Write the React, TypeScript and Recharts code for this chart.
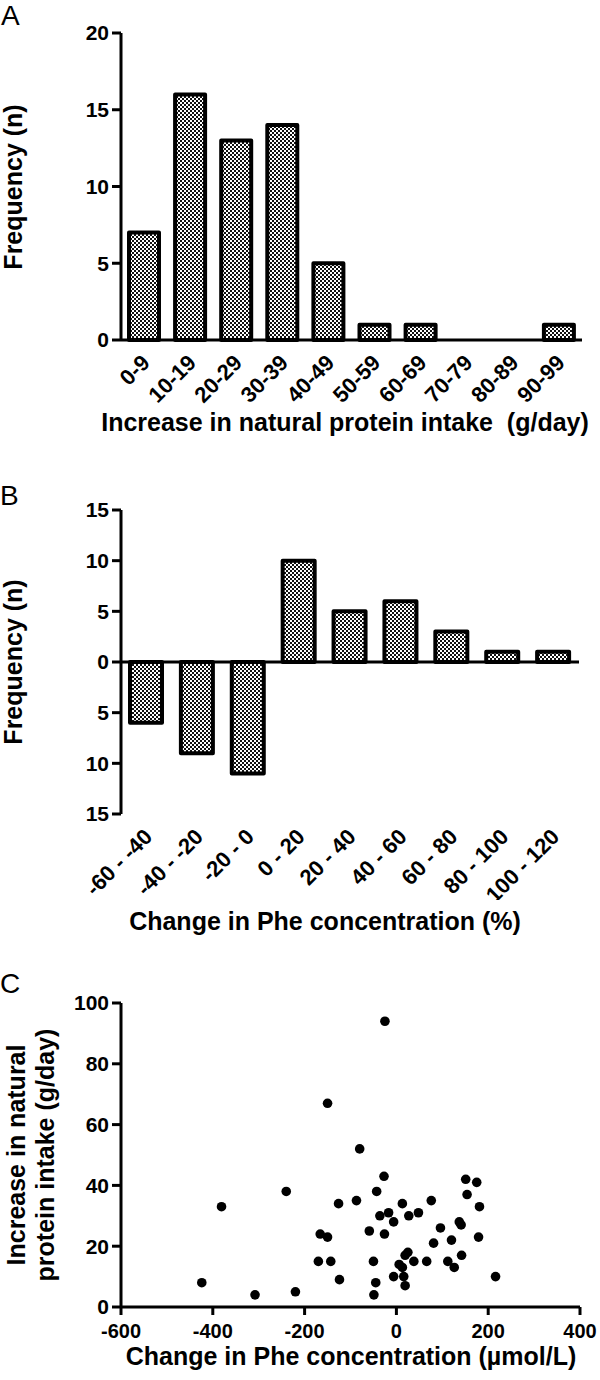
import React from 'react';
import { BarChart, Bar, XAxis, YAxis, ReferenceLine, ScatterChart, Scatter } from 'recharts';

const FONT = '"Liberation Sans", Arial, Helvetica, sans-serif';

// Panel A
const intakeBins = ['0-9', '10-19', '20-29', '30-39', '40-49', '50-59', '60-69', '70-79', '80-89', '90-99'];
const intakeCounts = [7, 16, 13, 14, 5, 1, 1, 0, 0, 1];
const freqTicksA = [0, 5, 10, 15, 20];

// Panel B
const pheBins = ['-60 - -40', '-40 - -20', '-20 - 0', '0 - 20', '20 - 40', '40 - 60', '60 - 80', '80 - 100', '100 - 120'];
const pheCounts = [-6, -9, -11, 10, 5, 6, 3, 1, 1];
const freqTicksB = [-15, -10, -5, 0, 5, 10, 15];

// Panel C
const pheChange = [-25, -150, -80, -27, -240, -43, -381, -87, -126, 13, 76, -17, -36, 27, 48, -6, 151, 175, 154, 181, -59, -26, -166, -150, 96, 137, 141, 81, 120, 179, -170, -143, -50, 25, 19, 38, 66, 6, 13, 112, 126, 142, -124, -6, 16, 19, -45, -49, -424, -308, -220, 216];
const proteinIncrease = [94, 67, 52, 43, 38, 38, 33, 35, 34, 34, 35, 31, 30, 30, 31, 28, 42, 41, 37, 33, 25, 24, 24, 23, 26, 28, 27, 21, 22, 23, 15, 15, 15, 18, 17, 15, 15, 14, 13, 15, 13, 17, 9, 10, 10, 7, 8, 4, 8, 4, 5, 10];
const scatterXTicks = [-600, -400, -200, 0, 200, 400];
const scatterYTicks = [0, 20, 40, 60, 80, 100];

const dataA = intakeBins.map((bin, i) => ({ bin, n: intakeCounts[i] }));
const dataB = pheBins.map((bin, i) => ({ bin, n: pheCounts[i] }));
const dataC = pheChange.map((x, i) => ({ x, y: proteinIncrease[i] }));

const tickStyle = { fontSize: 21, fontWeight: 'bold', fill: '#000', fontFamily: FONT };
const tickStyleC = { fontSize: 20, fontWeight: 'bold', fill: '#000', fontFamily: FONT };
const axisLine = { stroke: '#000', strokeWidth: 3 };

const ROT_FS = 22;

const RotTick = (props: any) => {
  const { x, y, payload } = props;
  const ax = x - 4;
  const ay = y + 13;
  return (
    <g transform={`translate(${ax},${ay}) rotate(-45)`}>
      <text x={0} y={ROT_FS * 0.716} textAnchor="end" fontSize={ROT_FS} fontWeight="bold" fill="#000" fontFamily={FONT} style={{ whiteSpace: 'pre' }}>
        {payload.value}
      </text>
    </g>
  );
};

const Dot = (props: any) => {
  const { cx, cy } = props;
  if (cx == null || cy == null) return null;
  return <circle cx={cx} cy={cy} r={4.8} fill="#000" />;
};

const titleStyle: React.CSSProperties = { fontFamily: FONT, fontWeight: 'bold', fontSize: 25, whiteSpace: 'pre' };

export default function App() {
  return (
    <div style={{ position: 'absolute', left: 0, top: 0, width: 600, height: 1380, background: '#fff', overflow: 'hidden' }}>
      <svg width={600} height={1380} style={{ position: 'absolute', left: 0, top: 0, pointerEvents: 'none', zIndex: 2 }}>
        <defs>
          <pattern id="checker" patternUnits="userSpaceOnUse" width={4} height={4}>
            <rect x={0} y={0} width={4} height={4} fill="#fff" />
            <rect x={0} y={0} width={2} height={2} fill="#111" />
            <rect x={2} y={2} width={2} height={2} fill="#111" />
          </pattern>
        </defs>
        <g fontFamily={FONT} fill="#000">
          <text x={1} y={25} fontSize={28}>A</text>
          <text x={0} y={505} fontSize={28}>B</text>
          <text x={0} y={993} fontSize={28}>C</text>
        </g>
        <text transform="translate(22,187) rotate(-90)" textAnchor="middle" style={titleStyle}>Frequency (n)</text>
        <text x={345} y={431} textAnchor="middle" style={titleStyle}>Increase in natural protein intake  (g/day)</text>
        <text transform="translate(22,662) rotate(-90)" textAnchor="middle" style={titleStyle}>Frequency (n)</text>
        <text x={325} y={930} textAnchor="middle" style={titleStyle}>Change in Phe concentration (%)</text>
        <text transform="translate(25,1155) rotate(-90)" textAnchor="middle" style={titleStyle}>Increase in natural</text>
        <text transform="translate(54,1155) rotate(-90)" textAnchor="middle" style={titleStyle}>protein intake (g/day)</text>
        <text x={351} y={1365} textAnchor="middle" style={titleStyle}>Change in Phe concentration (µmol/L)</text>
      </svg>

      <div style={{ position: 'absolute', left: 0, top: 0, zIndex: 1 }}>
        <BarChart width={600} height={440} data={dataA} margin={{ top: 33, right: 18, bottom: 0, left: 0 }}>
          <XAxis dataKey="bin" height={100} axisLine={axisLine} tickLine={false} tickSize={0} tickMargin={0} interval={0} tick={<RotTick />} />
          <YAxis width={121} domain={[0, 20]} ticks={freqTicksA} axisLine={axisLine} tickLine={{ stroke: '#000', strokeWidth: 3 }} tickSize={9} tickMargin={3} tick={tickStyle} interval={0} />
          <Bar dataKey="n" barSize={30} fill="url(#checker)" stroke="#000" strokeWidth={4} strokeLinejoin="round" isAnimationActive={false} />
        </BarChart>
      </div>

      <div style={{ position: 'absolute', left: 0, top: 440, zIndex: 1 }}>
        <BarChart width={600} height={460} data={dataB} margin={{ top: 70, right: 21, bottom: 0, left: 0 }}>
          <XAxis dataKey="bin" height={86} axisLine={false} tickLine={false} tickSize={0} tickMargin={0} interval={0} tick={<RotTick />} />
          <YAxis width={121} domain={[-15, 15]} ticks={freqTicksB} tickFormatter={(v: number) => String(Math.abs(v))} axisLine={axisLine} tickLine={{ stroke: '#000', strokeWidth: 3 }} tickSize={9} tickMargin={3} tick={tickStyle} interval={0} />
          <Bar dataKey="n" barSize={32} fill="url(#checker)" stroke="#000" strokeWidth={4} strokeLinejoin="round" isAnimationActive={false} />
          <ReferenceLine y={0} stroke="#000" strokeWidth={3} ifOverflow="extendDomain" />
        </BarChart>
      </div>

      <div style={{ position: 'absolute', left: 0, top: 900, zIndex: 1 }}>
        <ScatterChart width={600} height={480} margin={{ top: 103, right: 20, bottom: 0, left: 0 }}>
          <XAxis type="number" dataKey="x" domain={[-600, 400]} ticks={scatterXTicks} height={73} axisLine={axisLine} tickLine={{ stroke: '#000', strokeWidth: 3 }} tickSize={8} tickMargin={9} tick={tickStyleC} interval={0} allowDataOverflow />
          <YAxis type="number" dataKey="y" domain={[0, 100]} ticks={scatterYTicks} width={121} axisLine={axisLine} tickLine={{ stroke: '#000', strokeWidth: 3 }} tickSize={9} tickMargin={3} tick={{ ...tickStyleC, fontSize: 21 }} interval={0} allowDataOverflow />
          <Scatter data={dataC} fill="#000" shape={<Dot />} isAnimationActive={false} />
        </ScatterChart>
      </div>
    </div>
  );
}
